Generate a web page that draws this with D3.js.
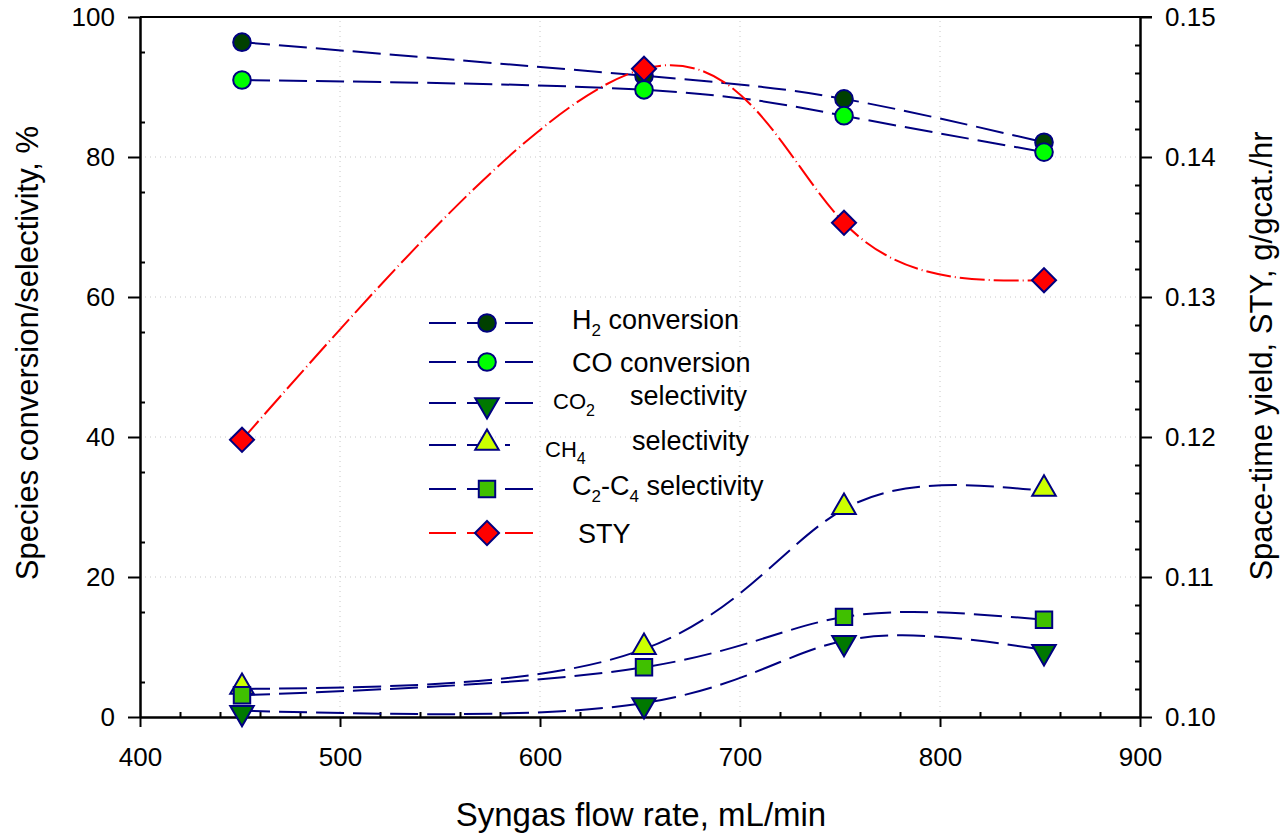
<!DOCTYPE html>
<html lang="en">
  <head>
    <meta charset="UTF-8" />
    <title>Syngas flow rate</title>
    <style>
      body { margin: 0; background: #fff; }
      text { font-family: "Liberation Sans", Arial, sans-serif; fill: #000; }
    </style>
  </head>
  <body>
    <script src="https://d3js.org/d3.v7.min.js"></script>
    <script>
      const width = 1283;
      const height = 833;
      const margin = { left: 140, right: 143, top: 17, bottom: 116 };

      // data
      const flowRate = [451, 652, 752, 852];
      const h2Conversion = [96.4, 91.6, 88.3, 82.1];
      const coConversion = [91.0, 89.6, 85.9, 80.7];
      const co2Selectivity = [0.9, 2.0, 10.9, 9.6];
      const ch4Selectivity = [4.0, 9.7, 29.7, 32.3];
      const c2c4Selectivity = [3.1, 7.1, 14.3, 13.9];
      const sty = [0.1198, 0.1463, 0.1353, 0.1312];

      const xTicks = [400, 500, 600, 700, 800, 900];
      const yTicks = [0, 20, 40, 60, 80, 100];
      const y2Ticks = [0.10, 0.11, 0.12, 0.13, 0.14, 0.15];

      const navy = "#000080";
      const series = [
        { name: "H2", values: h2Conversion, shape: "circle", fill: "#004000", axis: "left" },
        { name: "CO", values: coConversion, shape: "circle", fill: "#00ff00", axis: "left" },
        { name: "CO2", values: co2Selectivity, shape: "down", fill: "#007800", axis: "left" },
        { name: "CH4", values: ch4Selectivity, shape: "up", fill: "#ccff00", axis: "left" },
        { name: "C2C4", values: c2c4Selectivity, shape: "square", fill: "#40c000", axis: "left" },
        { name: "STY", values: sty, shape: "diamond", fill: "#ff0000", axis: "right" },
      ];

      const svg = d3.select("body").append("svg")
        .attr("width", width).attr("height", height);

      const x = d3.scaleLinear().domain([400, 900]).range([margin.left, width - margin.right]);
      const y = d3.scaleLinear().domain([0, 100]).range([height - margin.bottom, margin.top]);
      const y2 = d3.scaleLinear().domain([0.10, 0.15]).range([height - margin.bottom, margin.top]);

      // dotted grid
      const grid = svg.append("g").attr("stroke", "#c8c8c8").attr("stroke-width", 1)
        .attr("stroke-dasharray", "1,4");
      grid.selectAll(".vg").data(xTicks.slice(1, -1)).join("line")
        .attr("x1", (d) => x(d)).attr("x2", (d) => x(d))
        .attr("y1", y(0)).attr("y2", y(100));
      grid.selectAll(".hg").data(yTicks.slice(1, -1)).join("line")
        .attr("x1", x(400)).attr("x2", x(900))
        .attr("y1", (d) => y(d)).attr("y2", (d) => y(d));

      // top frame line
      svg.append("line").attr("x1", x(400)).attr("x2", x(900) + 12)
        .attr("y1", y(100)).attr("y2", y(100)).attr("stroke", "#000").attr("stroke-width", 2);

      function styleAxis(g) {
        g.selectAll("path, line").attr("stroke", "#000").attr("stroke-width", 2);
        g.selectAll("text").attr("font-size", null).style("font-size", "26px")
          .style("font-family", "Liberation Sans, Arial, sans-serif");
      }

      // bottom axis: major out, minor in
      svg.append("g").attr("transform", `translate(0,${y(0)})`)
        .call(d3.axisBottom(x).tickValues(d3.range(420, 900, 20).filter((d) => d % 100 !== 0))
          .tickSize(-5).tickSizeOuter(0).tickFormat(""))
        .call(styleAxis);
      svg.append("g").attr("transform", `translate(0,${y(0)})`)
        .call(d3.axisBottom(x).tickValues(xTicks).tickSize(10).tickSizeOuter(0).tickPadding(21))
        .call(styleAxis);

      // left axis
      svg.append("g").attr("transform", `translate(${x(400)},0)`)
        .call(d3.axisLeft(y).tickValues(d3.range(5, 100, 10)).tickSize(-5).tickSizeOuter(0).tickFormat(""))
        .call(styleAxis);
      svg.append("g").attr("transform", `translate(${x(400)},0)`)
        .call(d3.axisLeft(y).tickValues(yTicks).tickSize(12).tickSizeOuter(0).tickPadding(13))
        .call(styleAxis);

      // right axis
      const minorY2 = d3.range(0, 26).map((i) => 0.10 + i * 0.002).filter((d, i) => i % 5 !== 0);
      svg.append("g").attr("transform", `translate(${x(900)},0)`)
        .call(d3.axisRight(y2).tickValues(minorY2).tickSize(-5).tickSizeOuter(0).tickFormat(""))
        .call(styleAxis);
      svg.append("g").attr("transform", `translate(${x(900)},0)`)
        .call(d3.axisRight(y2).tickValues(y2Ticks).tickSize(12).tickSizeOuter(0).tickPadding(13)
          .tickFormat(d3.format(".2f")))
        .call(styleAxis);

      // axis titles
      svg.append("text").attr("x", 641).attr("y", 826).attr("text-anchor", "middle")
        .style("font-size", "33px").text("Syngas flow rate, mL/min");
      svg.append("text").attr("transform", "translate(38,353) rotate(-90)")
        .attr("text-anchor", "middle").style("font-size", "31px")
        .text("Species conversion/selectivity, %");
      svg.append("text").attr("transform", "translate(1272,356) rotate(-90)")
        .attr("text-anchor", "middle").style("font-size", "31px")
        .text("Space-time yield, STY, g/gcat./hr");

      const symbolFor = {
        circle: d3.symbol().type(d3.symbolCircle).size(245),
        square: d3.symbol().type(d3.symbolSquare).size(270),
        up: d3.symbol().type(d3.symbolTriangle).size(240),
        down: d3.symbol().type(d3.symbolTriangle).size(240),
        diamond: d3.symbol().type(d3.symbolSquare).size(290),
      };
      function markerTransform(shape, px, py) {
        if (shape === "down") return `translate(${px},${py + 2}) rotate(180)`;
        if (shape === "up") return `translate(${px},${py - 2})`;
        if (shape === "diamond") return `translate(${px},${py}) rotate(45)`;
        return `translate(${px},${py})`;
      }

      // lines
      series.forEach((s) => {
        const ys = s.axis === "left" ? y : y2;
        const line = d3.line().curve(d3.curveNatural)
          .x((d, i) => x(flowRate[i])).y((d) => ys(d));
        svg.append("path").datum(s.values)
          .attr("d", line)
          .attr("fill", "none")
          .attr("stroke", s.name === "STY" ? "#ff0000" : navy)
          .attr("stroke-width", 2)
          .attr("stroke-dasharray", s.name === "STY" ? "25,4,1,4" : "28,9");
      });

      // markers
      series.forEach((s) => {
        const ys = s.axis === "left" ? y : y2;
        svg.append("g").selectAll("path").data(s.values).join("path")
          .attr("d", symbolFor[s.shape]())
          .attr("transform", (d, i) => markerTransform(s.shape, x(flowRate[i]), ys(d)))
          .attr("fill", s.fill).attr("stroke", navy).attr("stroke-width", 2);
      });

      // legend
      const legendRows = [323, 362, 403, 445, 489, 533];
      const legend = svg.append("g");
      series.forEach((s, i) => {
        const ly = legendRows[i];
        const col = s.name === "STY" ? "#ff0000" : navy;
        const segs = [[429, 456], [467, 487], [505, s.name === "CH4" ? 510 : 533]];
        segs.forEach(([a, b]) => {
          legend.append("line").attr("x1", a).attr("x2", b).attr("y1", ly).attr("y2", ly)
            .attr("stroke", col).attr("stroke-width", 2);
        });
        legend.append("path").attr("d", symbolFor[s.shape]())
          .attr("transform", markerTransform(s.shape, 487, ly))
          .attr("fill", s.fill).attr("stroke", navy).attr("stroke-width", 2);
      });

      const fs = "27px";
      function sub(t, main, subText, rest, subSize) {
        t.append("tspan").text(main);
        t.append("tspan").attr("dy", 7).style("font-size", subSize || "17px").text(subText);
        if (rest) t.append("tspan").attr("dy", -7).text(rest);
      }
      let t = legend.append("text").attr("x", 572).attr("y", 329).style("font-size", fs);
      sub(t, "H", "2", " conversion");
      legend.append("text").attr("x", 572).attr("y", 372).style("font-size", fs).text("CO conversion");
      t = legend.append("text").attr("x", 553).attr("y", 409).style("font-size", "22px");
      sub(t, "CO", "2", null, "16px");
      legend.append("text").attr("x", 630).attr("y", 405).style("font-size", fs).text("selectivity");
      t = legend.append("text").attr("x", 545).attr("y", 457).style("font-size", "22px");
      sub(t, "CH", "4", null, "16px");
      legend.append("text").attr("x", 632).attr("y", 450).style("font-size", fs).text("selectivity");
      t = legend.append("text").attr("x", 572).attr("y", 495).style("font-size", fs);
      t.append("tspan").text("C");
      t.append("tspan").attr("dy", 7).style("font-size", "17px").text("2");
      t.append("tspan").attr("dy", -7).text("-C");
      t.append("tspan").attr("dy", 7).style("font-size", "17px").text("4");
      t.append("tspan").attr("dy", -7).text(" selectivity");
      legend.append("text").attr("x", 578).attr("y", 543).style("font-size", fs).text("STY");
    </script>
  </body>
</html>
